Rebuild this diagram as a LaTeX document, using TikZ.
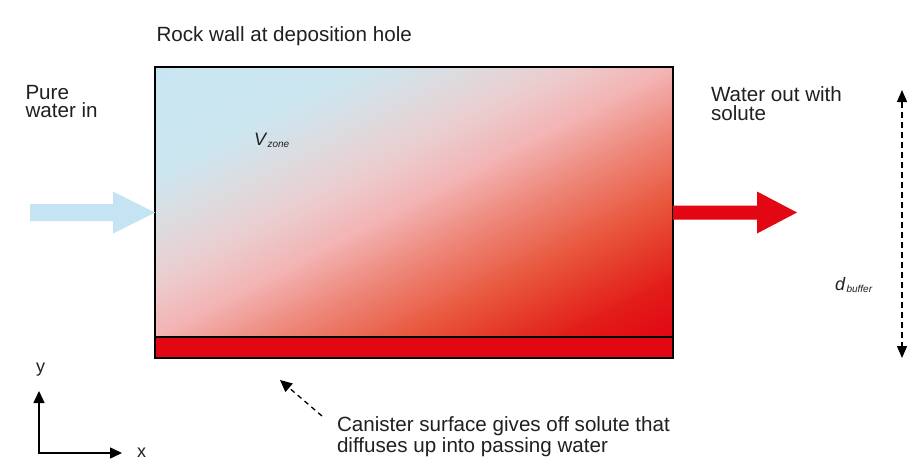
\documentclass[tikz,border=0pt]{standalone}
\usepackage{fontspec}
\setmainfont{Liberation Sans}
\usetikzlibrary{arrows.meta,calc}
\definecolor{txt}{RGB}{35,31,32}
\definecolor{wblue}{RGB}{196,228,243}
\definecolor{sred}{RGB}{227,6,19}
\definecolor{g0}{RGB}{200,230,242}
\definecolor{g2}{RGB}{204,230,240}
\definecolor{g3}{RGB}{220,220,224}
\definecolor{g4}{RGB}{235,205,207}
\definecolor{g5}{RGB}{243,180,180}
\definecolor{g6}{RGB}{238,140,128}
\definecolor{g75}{RGB}{232,85,58}
\definecolor{g9}{RGB}{226,28,24}
\definecolor{g10}{RGB}{226,6,20}
\begin{document}
\begin{tikzpicture}[x=1pt,y=-1pt,
  every node/.style={inner sep=0pt, outer sep=0pt},
  lbl/.style={font=\fontsize{20.6}{18.7}\selectfont, text=txt, align=left},
  axisline/.style={line width=1.5pt, draw=black, -{Triangle[length=12pt,width=11pt]}},
  dasharrow/.style={line width=1.3pt, draw=black, dash pattern=on 5pt off 4pt, -{Triangle[length=12pt,width=11pt]}},
  dimarrow/.style={line width=1.3pt, draw=black, dash pattern=on 6pt off 4pt, {Triangle[length=12pt,width=10pt]}-{Triangle[length=12pt,width=10pt]}}]
\useasboundingbox (0,0) rectangle (922,466);
\fill[white] (0,0) rectangle (922,466);

% zones
\node[minimum width=518pt, minimum height=270pt] (zone) at (414,202) {};
\node[minimum width=518pt, minimum height=21pt, fill=sred] (can) at (414,347.5) {};

% gradient drawn as thin bands
\begin{scope}
  \clip (zone.north west) rectangle (zone.south east);
  \begin{scope}[shift={(zone.center)}, rotate=27.5]
    \fill[g0] (-400,-400) rectangle (400,-238);
    \fill[g10] (-400,238) rectangle (400,400);
    \foreach \fa/\fb/\ca/\cb in {0/0.2/g0/g2, 0.2/0.3/g2/g3, 0.3/0.4/g3/g4, 0.4/0.5/g4/g5, 0.5/0.6/g5/g6, 0.6/0.75/g6/g75, 0.75/0.9/g75/g9, 0.9/1/g9/g10} {
      \foreach \i in {0,...,19} {
        \pgfmathsetmacro\p{\i*5+2.5}
        \pgfmathsetmacro\ta{-239+478*(\fa+(\fb-\fa)*\i/20)}
        \pgfmathsetmacro\tb{-239+478*(\fa+(\fb-\fa)*(\i+1)/20)+0.8}
        \fill[\cb!\p!\ca] (-400,\ta) rectangle (400,\tb);
      }
    }
  \end{scope}
\end{scope}

% outline
\draw[line width=2pt, draw=black] (zone.north west) rectangle (can.south east);
\draw[line width=1.5pt, draw=black] (zone.south west) -- (zone.south east);

\coordinate (bw) at ($(zone.north west)!0.5!(can.south west)$);
\coordinate (be) at ($(zone.north east)!0.5!(can.south east)$);

% blue arrow in
\fill[wblue] (bw) -- ++(-42,-21) -- ++(0,12.5) -- ++(-83,0) -- ++(0,17) -- ++(83,0) -- ++(0,12.5) -- cycle;
% red arrow out
\fill[sred] (be) ++(0,-7) -- ++(84,0) -- ++(0,-14) -- ++(40,21) -- ++(-40,21) -- ++(0,-14) -- ++(-84,0) -- cycle;

% labels
\node[lbl, anchor=north west] (toplbl) at (156.5,26.5) {Rock wall at deposition hole};
\node[lbl, anchor=north west] (inlbl) at (25.5,85) {Pure\\water in};
\node[lbl, anchor=north west] (outlbl) at (711,86.7) {Water out with\\solute};
\node[lbl, anchor=north west, font=\fontsize{20.6}{20.5}\selectfont] (canlbl) at (337,417) {Canister surface gives off solute that\\diffuses up into passing water};

\node[anchor=base west, text=txt, font=\fontsize{18}{18}\selectfont\itshape] (vz) at (254,145) {V\hspace{1.5pt}\raisebox{-2.5pt}{\fontsize{10}{10}\selectfont zone}};
\node[anchor=base west, text=txt, font=\fontsize{18}{18}\selectfont\itshape] (db) at (835,290.7) {d\hspace{1.5pt}\raisebox{-2pt}{\fontsize{10}{10}\selectfont buffer}};

% dimension arrow
\coordinate (dtop) at (902,90);
\coordinate (dbot) at (902,358);
\draw[dimarrow] (dtop) -- (dbot);

% diffusion arrow
\coordinate (dtail) at (322,416);
\coordinate (dhead) at (280,380);
\draw[dasharrow] (dtail) -- (dhead);

% axes
\coordinate (o) at (39,453);
\coordinate (ytip) at (39,391);
\coordinate (xtip) at (122,453);
\draw[axisline] (o) -- (ytip);
\draw[axisline] ([xshift=-0.75pt]o) -- (xtip);
\node[text=txt, font=\fontsize{18}{18}\selectfont] (ylab) at (40.5,370) {y};
\node[text=txt, font=\fontsize{18}{18}\selectfont] (xlab) at (141.5,453) {x};
\end{tikzpicture}
\end{document}
